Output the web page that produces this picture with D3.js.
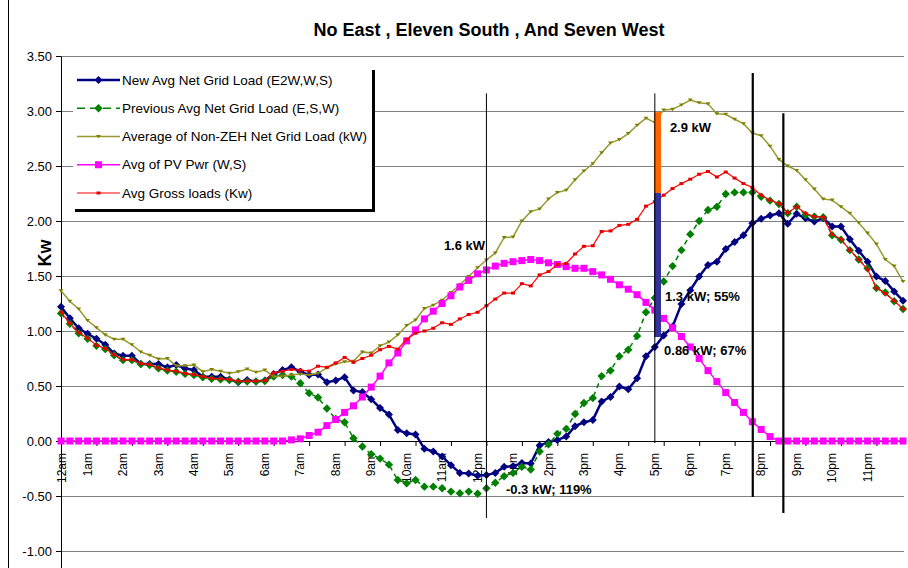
<!DOCTYPE html>
<html lang="en">
<head>
<meta charset="UTF-8">
<title>No East , Eleven South , And Seven West</title>
<script src="https://cdn.jsdelivr.net/npm/d3@7/dist/d3.min.js"></script>
<style>
    body { margin: 0; background: #fff; }
    svg { display: block; font-family: 'Liberation Sans', Arial, sans-serif; }
</style>
</head>
<body>
<svg id="chart" width="908" height="568"></svg>
<script>
    // 15 minute steps, 96 per day
    const hourLabels = ["12am", "1am", "2am", "3am", "4am", "5am", "6am", "7am", "8am", "9am", "10am", "11am",
        "12pm", "1pm", "2pm", "3pm", "4pm", "5pm", "6pm", "7pm", "8pm", "9pm", "10pm", "11pm"];

    const newNet = [1.22, 1.115, 1.025, 0.975, 0.93, 0.875, 0.795, 0.775, 0.775, 0.70, 0.70, 0.70,
        0.67, 0.69, 0.66, 0.645, 0.585, 0.585, 0.585, 0.56, 0.535, 0.555, 0.54, 0.55,
        0.61, 0.645, 0.67, 0.63, 0.60, 0.605, 0.535, 0.55, 0.58, 0.46, 0.445, 0.38,
        0.30, 0.24, 0.10, 0.07, 0.06, -0.07, -0.095, -0.14, -0.22, -0.29, -0.295, -0.315,
        -0.31, -0.29, -0.235, -0.23, -0.20, -0.205, -0.04, -0.01, 0.01, 0.04, 0.135, 0.17,
        0.19, 0.36, 0.40, 0.495, 0.47, 0.57, 0.77, 0.855, 0.96, 1.04, 1.245, 1.37,
        1.495, 1.60, 1.63, 1.745, 1.81, 1.87, 1.98, 2.02, 2.05, 2.07, 1.975, 2.065,
        2.025, 1.995, 2.025, 1.95, 1.95, 1.835, 1.73, 1.63, 1.495, 1.455, 1.36, 1.275];

    const prevNet = [1.16, 1.065, 0.98, 0.93, 0.865, 0.835, 0.78, 0.735, 0.735, 0.70, 0.69, 0.66,
        0.64, 0.63, 0.61, 0.60, 0.58, 0.565, 0.56, 0.555, 0.54, 0.54, 0.54, 0.545,
        0.585, 0.60, 0.585, 0.525, 0.435, 0.395, 0.295, 0.20, 0.17, 0.025, -0.05, -0.12,
        -0.16, -0.215, -0.355, -0.385, -0.355, -0.415, -0.415, -0.43, -0.46, -0.475, -0.46, -0.48,
        -0.43, -0.38, -0.32, -0.29, -0.235, -0.26, -0.095, -0.03, 0.065, 0.11, 0.245, 0.345,
        0.39, 0.59, 0.64, 0.77, 0.83, 0.955, 1.17, 1.30, 1.45, 1.59, 1.735, 1.88,
        2.00, 2.10, 2.13, 2.245, 2.26, 2.26, 2.26, 2.22, 2.185, 2.155, 2.07, 2.13,
        2.055, 2.04, 2.035, 1.87, 1.83, 1.735, 1.65, 1.57, 1.39, 1.35, 1.27, 1.20];

    const nonZeh = [1.365, 1.27, 1.20, 1.095, 1.03, 0.965, 0.925, 0.925, 0.875, 0.81, 0.78, 0.745,
        0.75, 0.685, 0.685, 0.69, 0.63, 0.65, 0.635, 0.615, 0.63, 0.655, 0.625, 0.645,
        0.585, 0.59, 0.60, 0.61, 0.60, 0.615, 0.665, 0.70, 0.72, 0.725, 0.81, 0.80,
        0.865, 0.90, 0.965, 1.05, 1.10, 1.205, 1.235, 1.28, 1.35, 1.42, 1.495, 1.575,
        1.645, 1.71, 1.85, 1.855, 2.00, 2.085, 2.11, 2.20, 2.26, 2.28, 2.375, 2.455,
        2.52, 2.62, 2.71, 2.74, 2.795, 2.87, 2.935, 2.895, 3.01, 3.015, 3.055, 3.10,
        3.075, 3.065, 2.975, 2.97, 2.925, 2.885, 2.80, 2.775, 2.68, 2.56, 2.50, 2.46,
        2.375, 2.29, 2.20, 2.19, 2.13, 2.07, 1.985, 1.89, 1.79, 1.65, 1.59, 1.45];

    const pvPwr = [0, 0, 0, 0, 0, 0, 0, 0, 0, 0, 0, 0,
        0, 0, 0, 0, 0, 0, 0, 0, 0, 0, 0, 0,
        0, 0, 0.01, 0.02, 0.05, 0.08, 0.14, 0.195, 0.26, 0.32, 0.40, 0.49,
        0.59, 0.71, 0.80, 0.91, 1.01, 1.11, 1.18, 1.25, 1.32, 1.40, 1.46, 1.52,
        1.555, 1.59, 1.615, 1.63, 1.64, 1.65, 1.64, 1.62, 1.605, 1.585, 1.57, 1.57,
        1.54, 1.51, 1.47, 1.42, 1.38, 1.33, 1.26, 1.19, 1.115, 1.03, 0.95, 0.855,
        0.75, 0.64, 0.54, 0.44, 0.35, 0.26, 0.175, 0.105, 0.04, 0, 0, 0,
        0, 0, 0, 0, 0, 0, 0, 0, 0, 0, 0, 0];

    const grossLoad = [1.17, 1.07, 0.985, 0.935, 0.87, 0.84, 0.785, 0.74, 0.74, 0.705, 0.695, 0.665,
        0.645, 0.635, 0.615, 0.605, 0.585, 0.57, 0.565, 0.56, 0.545, 0.545, 0.545, 0.55,
        0.62, 0.635, 0.65, 0.645, 0.635, 0.68, 0.67, 0.71, 0.76, 0.715, 0.75, 0.78,
        0.83, 0.86, 0.835, 0.925, 0.98, 1.00, 1.025, 1.075, 1.06, 1.11, 1.15, 1.17,
        1.23, 1.29, 1.345, 1.345, 1.43, 1.41, 1.51, 1.54, 1.605, 1.615, 1.70, 1.77,
        1.775, 1.905, 1.91, 1.96, 1.97, 2.015, 2.135, 2.175, 2.235, 2.295, 2.34, 2.38,
        2.425, 2.45, 2.40, 2.445, 2.39, 2.34, 2.305, 2.235, 2.19, 2.16, 2.075, 2.13,
        2.07, 2.04, 2.035, 1.88, 1.835, 1.735, 1.65, 1.56, 1.39, 1.34, 1.275, 1.20];

    // drawn shapes on the chart, in data units (step index, kW)
    const refLines = [
        {i: 48, top: 3.16, bottom: -0.70, w: 1},
        {i: 67, top: 3.16, bottom: -0.02, w: 1},
        {i: 78.05, top: 3.345, bottom: -0.51, w: 2.2},
        {i: 81.5, top: 2.98, bottom: -0.655, w: 2.2}
    ];
    const bars = [
        {i: 67.3, from: 2.99, to: 2.255, color: "#FF6600"},
        {i: 67.3, from: 2.255, to: 0.945, color: "#333399"}
    ];
    const callouts = [
        {i: 43.2, v: 1.736, text: "1.6 kW"},
        {i: 68.7, v: 2.81, text: "2.9 kW"},
        {i: 68.15, v: 1.273, text: "1.3 kW; 55%"},
        {i: 68.04, v: 0.782, text: "0.86 kW; 67%"},
        {i: 50.2, v: -0.482, text: "-0.3 kW; 119%"}
    ];

    const svg = d3.select("#chart");

    const x = d3.scaleLinear().domain([0, 95]).range([61, 903]);
    const y = d3.scaleLinear().domain([-1.5, 3.5]).range([606, 56]);

    const diamond = r => `M0,${-r}L${r},0L0,${r}L${-r},0Z`;
    const tri = "M-2.5,-1.5L2.5,-1.5L0,1.8Z";

    const series = [
        {name: "New Avg Net Grid Load (E2W,W,S)", data: newNet, color: "#000080", width: 2.5, dash: null,
            marker: {type: "path", d: diamond(4), fill: "#000080"}},
        {name: "Previous Avg Net Grid Load (E,S,W)", data: prevNet, color: "#008000", width: 1.5, dash: "5,4",
            marker: {type: "path", d: diamond(4.2), fill: "#008000"}},
        {name: "Average of Non-ZEH Net Grid Load (kW)", data: nonZeh, color: "#999933", width: 1.5, dash: null,
            marker: {type: "path", d: tri, fill: "#808000"}},
        {name: "Avg of PV Pwr (W,S)", data: pvPwr, color: "#FF00FF", width: 1.5, dash: null,
            marker: {type: "rect", w: 7, h: 7, fill: "#FF00FF"}},
        {name: "Avg Gross loads (Kw)", data: grossLoad, color: "#FF0000", width: 1.2, dash: null,
            marker: {type: "rect", w: 4, h: 3, fill: "#E80000"}}
    ];

    // left border of chart area
    svg.append("line")
        .attr("x1", 8.5).attr("x2", 8.5).attr("y1", 0).attr("y2", 568)
        .attr("stroke", "#000").attr("stroke-width", 1);

    // title
    svg.append("text")
        .attr("x", 489).attr("y", 36)
        .attr("text-anchor", "middle")
        .style("font-size", "18px").style("font-weight", "bold")
        .text("No East , Eleven South , And Seven West");

    // gridlines (axis runs on below the picture)
    const yTicks = d3.range(-1.0, 3.51, 0.5);
    svg.append("g")
        .selectAll("line")
        .data(yTicks)
        .enter().append("line")
        .attr("x1", x(0)).attr("x2", x(95) + 1)
        .attr("y1", d => Math.round(y(d)) + 0.5).attr("y2", d => Math.round(y(d)) + 0.5)
        .attr("stroke", "#808080").attr("stroke-width", 1);

    // y axis
    const yAxis = svg.append("g")
        .attr("transform", `translate(${x(0)},0)`)
        .call(d3.axisLeft(y).tickValues(yTicks).tickSize(5).tickSizeOuter(0).tickPadding(4)
            .tickFormat(d => d.toFixed(2)));
    yAxis.selectAll("text").style("font-size", "13px").attr("fill", "#000");
    yAxis.selectAll("line, path").attr("stroke", "#000");

    svg.append("text")
        .attr("transform", "translate(45,253) rotate(-90)")
        .attr("text-anchor", "middle").attr("dy", "0.35em")
        .style("font-size", "18px").style("font-weight", "bold")
        .text("Kw");

    // x axis on zero line
    const xAxis = svg.append("g")
        .attr("transform", `translate(0,${y(0)})`)
        .call(d3.axisBottom(x).tickValues(d3.range(0, 96, 4)).tickSize(5).tickSizeOuter(0).tickFormat(""));
    xAxis.selectAll("line, path").attr("stroke", "#000");

    svg.append("g")
        .selectAll("text")
        .data(hourLabels)
        .enter().append("text")
        .attr("transform", (d, k) => `translate(${Math.max(x(k * 4) - 9, 62)},${y(0) + 12}) rotate(-90)`)
        .attr("text-anchor", "end").attr("dy", "0.35em")
        .style("font-size", "12px")
        .text(d => d);

    // series
    const line = d3.line().x((d, i) => x(i)).y(d => y(d));

    series.forEach(s => {
        const g = svg.append("g");
        g.append("path")
            .datum(s.data)
            .attr("d", line)
            .attr("fill", "none")
            .attr("stroke", s.color)
            .attr("stroke-width", s.width)
            .attr("stroke-dasharray", s.dash);
        drawMarkers(g, s.data.map((v, i) => [x(i), y(v)]), s.marker);
    });

    function drawMarkers(g, pts, m) {
        if (m.type === "rect") {
            g.selectAll("rect.m")
                .data(pts)
                .enter().append("rect")
                .attr("class", "m")
                .attr("x", d => d[0] - m.w / 2).attr("y", d => d[1] - m.h / 2)
                .attr("width", m.w).attr("height", m.h)
                .attr("fill", m.fill);
        } else {
            g.selectAll("path.m")
                .data(pts)
                .enter().append("path")
                .attr("class", "m")
                .attr("d", m.d)
                .attr("transform", d => `translate(${d[0]},${d[1]})`)
                .attr("fill", m.fill);
        }
    }

    // bars and reference lines
    svg.append("g")
        .selectAll("rect")
        .data(bars)
        .enter().append("rect")
        .attr("x", d => x(d.i) - 3.5).attr("width", 7)
        .attr("y", d => y(d.from)).attr("height", d => y(d.to) - y(d.from))
        .attr("fill", d => d.color);

    svg.append("g")
        .selectAll("line")
        .data(refLines)
        .enter().append("line")
        .attr("x1", d => x(d.i)).attr("x2", d => x(d.i))
        .attr("y1", d => y(d.top)).attr("y2", d => y(d.bottom))
        .attr("stroke", "#000").attr("stroke-width", d => d.w);

    svg.append("g")
        .selectAll("text")
        .data(callouts)
        .enter().append("text")
        .attr("x", d => x(d.i)).attr("y", d => y(d.v))
        .style("font-size", "13px").style("font-weight", "bold")
        .text(d => d.text);

    // legend
    const lg = svg.append("g");
    lg.append("rect").attr("x", 73).attr("y", 66).attr("width", 299).attr("height", 143).attr("fill", "#fff");
    lg.append("rect").attr("x", 372).attr("y", 70).attr("width", 3).attr("height", 142).attr("fill", "#000");
    lg.append("rect").attr("x", 75).attr("y", 209).attr("width", 300).attr("height", 3).attr("fill", "#000");

    series.forEach((s, k) => {
        const cy = 80 + k * 28.25;
        const row = lg.append("g");
        row.append("line")
            .attr("x1", 77).attr("x2", 120).attr("y1", cy).attr("y2", cy)
            .attr("stroke", s.color).attr("stroke-width", s.width)
            .attr("stroke-dasharray", s.dash ? "8,5" : null);
        drawMarkers(row, [[98.5, cy]], s.marker);
        row.append("text")
            .attr("x", 122).attr("y", cy).attr("dy", "0.35em")
            .style("font-size", "13.5px")
            .text(s.name);
    });
</script>
</body>
</html>
